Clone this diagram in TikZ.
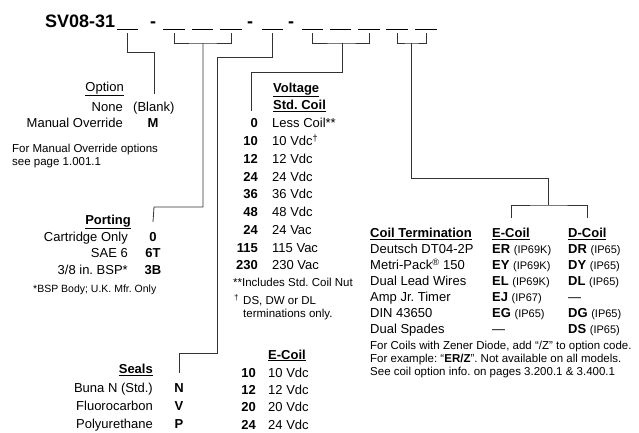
\documentclass[tikz,border=0pt]{standalone}
\usepackage{fontspec}
\setmainfont{Liberation Sans}
\usetikzlibrary{positioning}
\frenchspacing

\newcommand{\ipcode}[2]{\textbf{#1} {\fontsize{11}{12}\selectfont(#2)}}

\begin{document}
\begin{tikzpicture}[
  x=1pt, y=-1pt,
  txt/.style={inner sep=0pt, font=\fontsize{13}{15}\selectfont},
  code/.style={inner sep=0pt, font=\fontsize{13}{15}\selectfont\bfseries},
  hdr/.style={inner sep=0pt, font=\fontsize{13}{15}\selectfont\bfseries},
  note/.style={inner sep=0pt, font=\fontsize{11.5}{13}\selectfont},
  big/.style={inner sep=0pt, font=\fontsize{18}{20}\selectfont\bfseries},
  blank/.style={inner sep=0pt, minimum width=21pt, minimum height=0pt},
  wire/.style={draw=black!80, line width=0.8pt}
]
  \useasboundingbox (0,0) rectangle (639,432);

  % Bestellcode mit Leerstellen
  \node[big, anchor=base west] (title) at (45,27.5) {SV08-31};
  \foreach \n/\x in {1/127.5, 2/174, 3/202.5, 4/231, 5/272.5, 6/312.5, 7/340.5, 8/369, 9/397, 10/426} {
    \node[blank] (b\n) at (\x,29.5) {};
    \draw[line width=0.8pt] (b\n.west) -- (b\n.east);
  }
  \foreach \x [count=\i] in {153,250,291} {
    \node[big, anchor=base] (dash\i) at (\x,27.5) {-};
  }

  % Option
  \node[txt, anchor=base east] (opthd) at (124,91.5) {\underline{Option}};
  \node[txt, anchor=base east] (optnone) at (123,111.5) {None};
  \node[txt, anchor=base west] (optblank) at (133,111.5) {(Blank)};
  \node[txt, anchor=base east] (optman) at (123,127.5) {Manual Override};
  \node[code, anchor=base] (optM) at (153,127.5) {M};
  \node[note, anchor=base west] (optnote1) at (12,152) {For Manual Override options};
  \node[note, anchor=base west] (optnote2) at (12,165.5) {see page 1.001.1};
  \coordinate (optEnd) at (154,94);

  % Porting
  \node[hdr, anchor=base east] (porthd) at (131,224.5) {\underline{Porting}};
  \foreach \t/\c [count=\i] in {Cartridge Only/0, SAE 6/6T, {3/8 in. BSP*}/3B} {
    \node[txt, anchor=base east] (portt\i) at (128,224.5+16.7*\i) {\t};
    \node[code, anchor=base] (portc\i) at (153,224.5+16.7*\i) {\c};
  }
  \node[note, anchor=base west, font=\fontsize{10.5}{12}\selectfont] (portnote) at (33,292.5) {*BSP Body; U.K. Mfr. Only};

  % Seals
  \node[hdr, anchor=base east] (sealhd) at (153,373.5) {\underline{Seals}};
  \foreach \t/\c [count=\i] in {Buna N (Std.)/N, Fluorocarbon/V, Polyurethane/P} {
    \node[txt, anchor=base east] (sealt\i) at (153,374.5+18*\i) {\t};
    \node[code, anchor=base] (sealc\i) at (179,374.5+18*\i) {\c};
  }

  % Voltage
  \node[hdr, anchor=base west] (volthd) at (273,92.5) {\underline{Voltage}};
  \node[hdr, anchor=base west] (stdhd) at (273,109.5) {\underline{Std. Coil}};
  \foreach \c/\t [count=\i] in {0/Less Coil**, 10/{10 Vdc\textsuperscript{†}}, 12/12 Vdc, 24/24 Vdc, 36/36 Vdc, 48/48 Vdc, 24/24 Vac, 115/115 Vac, 230/230 Vac} {
    \node[code, anchor=base east] (vc\i) at (258,110+17.75*\i) {\c};
    \node[txt, anchor=base west] (vt\i) at (272,110+17.75*\i) {\t};
  }
  \node[note, anchor=base west] (vnote1) at (233,286.5) {**Includes Std. Coil Nut};
  \node[note, anchor=base west] (vdag) at (234,304.5) {\textsuperscript{†}};
  \node[note, anchor=base west] (vnote2) at (243,304.5) {DS, DW or DL};
  \node[note, anchor=base west] (vnote3) at (243,317) {terminations only.};
  \coordinate (voltEnd) at (251,111);

  % E-Coil (unten)
  \node[hdr, anchor=base west] (elowhd) at (268,359) {\underline{E-Coil}};
  \foreach \c [count=\i] in {10,12,20,24} {
    \node[code, anchor=base east] (ec\i) at (256,360+17.3*\i) {\c};
    \node[txt, anchor=base west] (et\i) at (268,360+17.3*\i) {\c\ Vdc};
  }

  % Coil Termination
  \node[hdr, anchor=base west] (termhd) at (370,237.5) {\underline{Coil Termination}};
  \node[hdr, anchor=base west] (ehd) at (492,237.5) {\underline{E-Coil}};
  \node[hdr, anchor=base west] (dhd) at (568,237.5) {\underline{D-Coil}};
  \foreach \t/\e/\d [count=\i] in {
      Deutsch DT04-2P/{\ipcode{ER}{IP69K}}/{\ipcode{DR}{IP65}},
      {Metri-Pack\textsuperscript{®} 150}/{\ipcode{EY}{IP69K}}/{\ipcode{DY}{IP65}},
      Dual Lead Wires/{\ipcode{EL}{IP69K}}/{\ipcode{DL}{IP65}},
      Amp Jr. Timer/{\ipcode{EJ}{IP67}}/{\textemdash},
      DIN 43650/{\ipcode{EG}{IP65}}/{\ipcode{DG}{IP65}},
      Dual Spades/{\textemdash}/{\ipcode{DS}{IP65}}} {
    \node[txt, anchor=base west] (tt\i) at (370,237.5+16*\i) {\t};
    \node[txt, anchor=base west] (te\i) at (492,237.5+16*\i) {\e};
    \node[txt, anchor=base west] (td\i) at (568,237.5+16*\i) {\d};
  }
  \node[note, anchor=base west] (tnote1) at (370,349.5) {For Coils with Zener Diode, add “/Z” to option code.};
  \node[note, anchor=base west] (tnote2) at (370,362.5) {For example: “\textbf{ER/Z}”. Not available on all models.};
  \node[note, anchor=base west] (tnote3) at (370,375.5) {See coil option info. on pages 3.200.1 \& 3.400.1};

  % Verbindungslinien
  \draw[wire] ([yshift=-3.5pt]b1.south) -- ++(0,19) -| (optEnd);
  \draw[wire] ([yshift=-3.5pt]b2.south) |- (203,43) -| ([yshift=-3.5pt]b4.south);
  \draw[wire] (203,43) |- (154,207) -- ([yshift=10pt]portc1.north);
  \draw[wire] ([yshift=-3.5pt]b5.south) |- (217,57) |- (179,353) -- ([yshift=10pt]sealc1.north);
  \draw[wire] ([yshift=-3.5pt]b6.south) |- (342,43) -| ([yshift=-3.5pt]b8.south);
  \draw[wire] (342,43) |- (251,72) -- (voltEnd);
  \draw[wire] ([yshift=-3.5pt]b9.south) |- (411.5,43) -| ([yshift=-3.5pt]b10.south);
  \draw[wire] (411.5,43) |- (548,178) -- (548,205);
  \draw[wire] ([yshift=10pt]ehd.north) |- (548,205) -| ([yshift=10pt]dhd.north);
\end{tikzpicture}
\end{document}
